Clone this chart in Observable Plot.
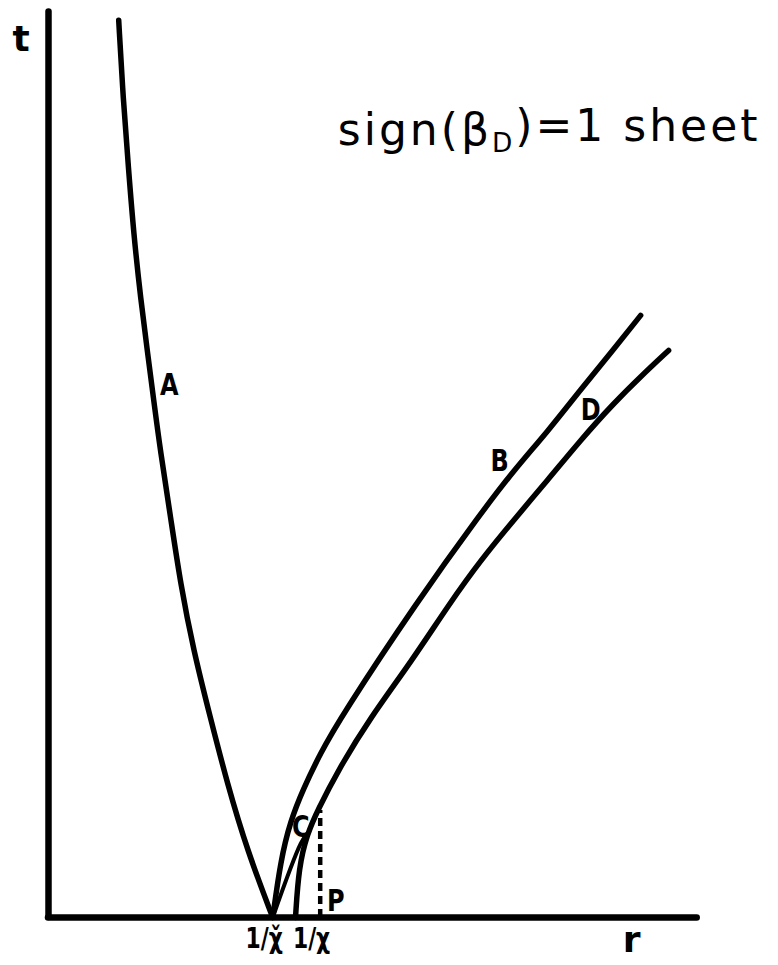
<!DOCTYPE html>
<html>
<head>
<meta charset="utf-8">
<script src="https://cdn.jsdelivr.net/npm/d3@7"></script>
<script src="https://cdn.jsdelivr.net/npm/@observablehq/plot@0.6"></script>
<style>
  body { margin: 0; background: #fff; }
</style>
</head>
<body>
<div id="chart"></div>
<script>
// Characteristic curves in the (r, t) plane, sheet with sign(beta_D) = 1
const curveA_r = [1.08, 1.15, 1.23, 1.31, 1.42, 1.52, 1.62, 1.72, 1.88, 2.03, 2.23, 2.49, 2.75, 3.06, 3.45];
const curveA_t = [9.97, 9.08, 8.33, 7.60, 6.86, 6.30, 5.74, 5.19, 4.44, 3.71, 2.97, 2.22, 1.49, 0.74, 0];

const curveB_r = [3.45, 3.57, 3.72, 3.92, 4.18, 4.49, 5.68, 6.65, 7.15, 7.68, 8.18, 8.69, 9.11];
const curveB_t = [0, 0.63, 1.07, 1.43, 1.82, 2.22, 3.52, 4.49, 4.96, 5.40, 5.86, 6.31, 6.69];

const curveC_r = [3.45, 3.88, 3.98];
const curveC_t = [0, 0.82, 0.93];

const curveD_r = [3.80, 3.85, 3.98, 4.14, 4.45, 4.95, 5.57, 6.18, 6.65, 7.15, 7.68, 8.18, 8.69, 9.11, 9.54];
const curveD_t = [0, 0.56, 0.93, 1.19, 1.63, 2.22, 2.83, 3.50, 3.97, 4.41, 4.86, 5.30, 5.71, 6.01, 6.30];

// Point P on curve D, marked by a dashed drop line
const pointP_r = 4.18;
const pointP_t = 1.19;

// Tick labels on the r axis
const tickR = [3.45, 4.18];
const tickText = ["1/χ̌", "1/χ"];

// Curve and point labels
const labelText = ["A", "B", "C", "D", "P"];
const labelR = [1.86, 6.94, 3.88, 8.34, 4.42];
const labelT = [5.91, 5.07, 1.00, 5.63, 0.18];

// Axis names
const axisText = ["t", "r"];
const axisR = [-0.42, 8.97];
const axisT = [9.76, -0.26];

const title = "sign(βD)=1 sheet";
const titleR = 4.45;
const titleT = 8.58;

const toPoints = (rs, ts) => rs.map((r, i) => ({r, t: ts[i]}));

const labelFont = "'DejaVu Sans', sans-serif";

const chart = Plot.plot({
  width: 778,
  height: 965,
  marginLeft: 48,
  marginRight: 80,
  marginTop: 17,
  marginBottom: 48,
  style: {background: "white", color: "black"},
  x: {domain: [0, 10], axis: null},
  y: {domain: [0, 10], axis: null},
  marks: [
    // axes
    Plot.ruleX([0], {y1: 0, y2: 10.06, strokeWidth: 6.5, strokeLinecap: "round"}),
    Plot.ruleY([0], {x1: 0, x2: 9.98, strokeWidth: 6.5, strokeLinecap: "round"}),
    // curves
    Plot.line(toPoints(curveA_r, curveA_t), {x: "r", y: "t", curve: "basis", strokeWidth: 5.5, strokeLinecap: "round"}),
    Plot.line(toPoints(curveB_r, curveB_t), {x: "r", y: "t", curve: "basis", strokeWidth: 5.5, strokeLinecap: "round"}),
    Plot.line(toPoints(curveD_r, curveD_t), {x: "r", y: "t", curve: "basis", strokeWidth: 5.5, strokeLinecap: "round"}),
    Plot.line(toPoints(curveC_r, curveC_t), {x: "r", y: "t", curve: "catmull-rom", strokeWidth: 4, strokeLinecap: "round"}),
    // dashed line under P
    Plot.ruleX([pointP_r], {y1: 0, y2: pointP_t, strokeWidth: 4.5, strokeDasharray: "8,5"}),
    // tick labels
    Plot.text(tickR, {x: d => d, y: 0, text: (d, i) => tickText[i], textAnchor: "end", dx: 10, dy: 22,
      fontSize: 28, fontWeight: "bold", fontFamily: labelFont}),
    // curve labels
    Plot.text(labelText, {x: (d, i) => labelR[i], y: (d, i) => labelT[i], text: d => d,
      fontSize: 30, fontWeight: "bold", fontFamily: labelFont}),
    // axis names
    Plot.text(axisText, {x: (d, i) => axisR[i], y: (d, i) => axisT[i], text: d => d,
      fontSize: 36, fontWeight: "bold", fontFamily: labelFont}),
    // sheet title
    Plot.text([title], {x: titleR, y: titleT, text: d => d, textAnchor: "start", lineAnchor: "bottom",
      fontSize: 44, fontFamily: "'DejaVu Sans', sans-serif"})
  ]
});

// subscript D in the sheet title
d3.select(chart).selectAll("text")
  .filter(function () { return this.textContent === title; })
  .each(function () {
    const t = d3.select(this);
    t.text(null).style("letter-spacing", "3px");
    t.append("tspan").text("sign(β");
    t.append("tspan").attr("font-size", "60%").attr("dy", "0.25em").text("D");
    t.append("tspan").attr("dy", "-0.25em").text(")=1 sheet");
  });

document.getElementById("chart").appendChild(chart);

// narrow the heavy lettering so neighbouring labels stay apart
const squeeze = (texts, factor) => d3.select(chart).selectAll("text")
  .filter(function () { return texts.includes(this.textContent); })
  .each(function () {
    const w = this.getComputedTextLength();
    d3.select(this).attr("textLength", w * factor).attr("lengthAdjust", "spacingAndGlyphs");
  });
squeeze(tickText, 0.78);
squeeze(labelText, 0.8);
</script>
</body>
</html>
